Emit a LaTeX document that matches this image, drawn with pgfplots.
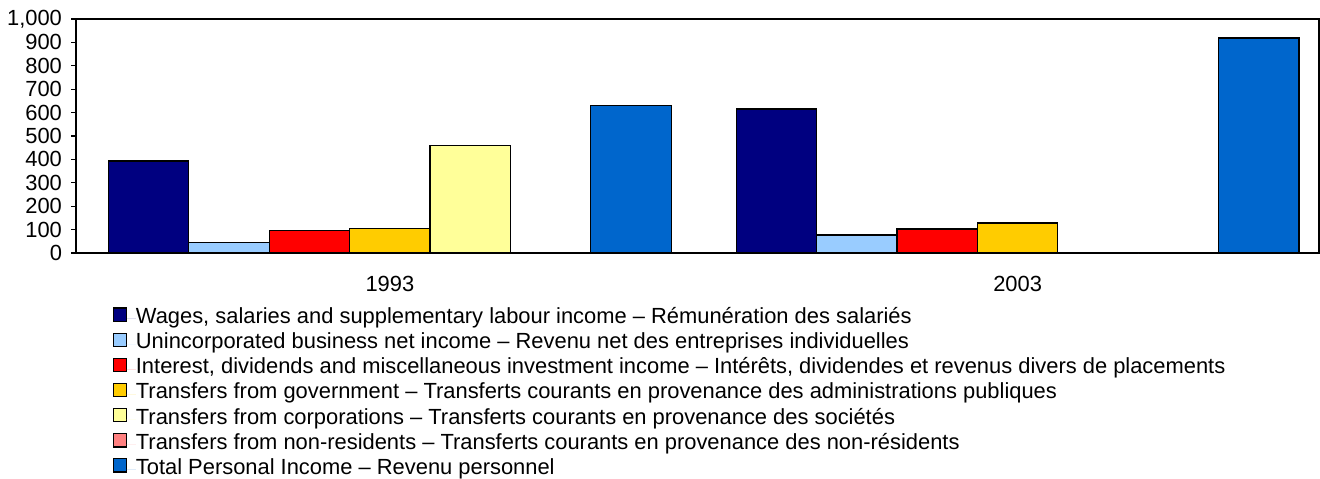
\documentclass[border=0pt]{standalone}
\usepackage{pgfplots}
\pgfplotsset{compat=1.18}
\usepackage{fontspec}
\setmainfont{Liberation Sans}
\definecolor{cWage}{RGB}{0,0,128}
\definecolor{cUninc}{RGB}{153,204,255}
\definecolor{cInt}{RGB}{255,0,0}
\definecolor{cGov}{RGB}{255,204,0}
\definecolor{cCorp}{RGB}{255,255,153}
\definecolor{cNonres}{RGB}{255,128,128}
\definecolor{cTotal}{RGB}{0,102,204}
\begin{document}
\begin{tikzpicture}
\useasboundingbox (0,0) rectangle (660pt,239pt);
\begin{axis}[
  at={(38pt,112.5pt)}, anchor=south west,
  scale only axis, width=621.5pt, height=117pt,
  ybar=0pt, bar width=40.2pt,
  xmin=0.5, xmax=2.48, ymin=0, ymax=1000,
  xtick={1,2}, xticklabels={1993,2003},
  major x tick style={draw=none},
  ytick={0,100,...,1000},
  tick align=outside, major tick length=2.5pt,
  y tick style={black, line width=0.6pt},
  axis line style={black, line width=0.9pt},
  /pgf/number format/assume math mode=true,
  /pgf/number format/1000 sep={,},
  yticklabel style={font=\fontsize{10.95}{12}\selectfont, xshift=-1pt},
  xticklabel style={font=\fontsize{10.95}{12}\selectfont, yshift=-5.5pt},
  every axis plot/.append style={draw=black, line width=0.6pt},
  legend style={draw=none, fill=none, inner sep=0pt, outer sep=0pt,
    at={([xshift=18.4pt,yshift=-26.7pt]axis description cs:0,0)}, anchor=north west,
    font=\fontsize{10.95}{12}\selectfont, row sep=0pt, column sep=0pt,
    nodes={inner sep=0pt, text height=8.6pt, text depth=3.95pt}},
  legend cell align=left,
  legend image code/.code={\draw[#1, line width=0.7pt] (0pt,-1.2pt) rectangle (6.6pt,5.4pt); \path[draw=none] (0pt,0pt) -- (11.2pt,0pt);},
]
\addplot[fill=cWage] coordinates {(1,393) (2,615)};
\addplot[fill=cUninc] coordinates {(1,45) (2,77)};
\addplot[fill=cInt] coordinates {(1,95) (2,103)};
\addplot[fill=cGov] coordinates {(1,104) (2,128)};
\addplot[fill=cCorp] coordinates {(1,461) (2,0)};
\addplot[fill=cNonres] coordinates {(1,0) (2,0)};
\addplot[fill=cTotal] coordinates {(1,632) (2,919)};
\legend{{Wages, salaries and supplementary labour income – Rémunération des salariés},
{Unincorporated business net income – Revenu net des entreprises individuelles},
{Interest, dividends and miscellaneous investment income – Intérêts, dividendes et revenus divers de placements},
{Transfers from government – Transferts courants en provenance des administrations publiques},
{Transfers from corporations – Transferts courants en provenance des sociétés},
{Transfers from non-residents – Transferts courants en provenance des non-résidents},
{Total Personal Income – Revenu personnel}}
\end{axis}
\end{tikzpicture}
\end{document}
